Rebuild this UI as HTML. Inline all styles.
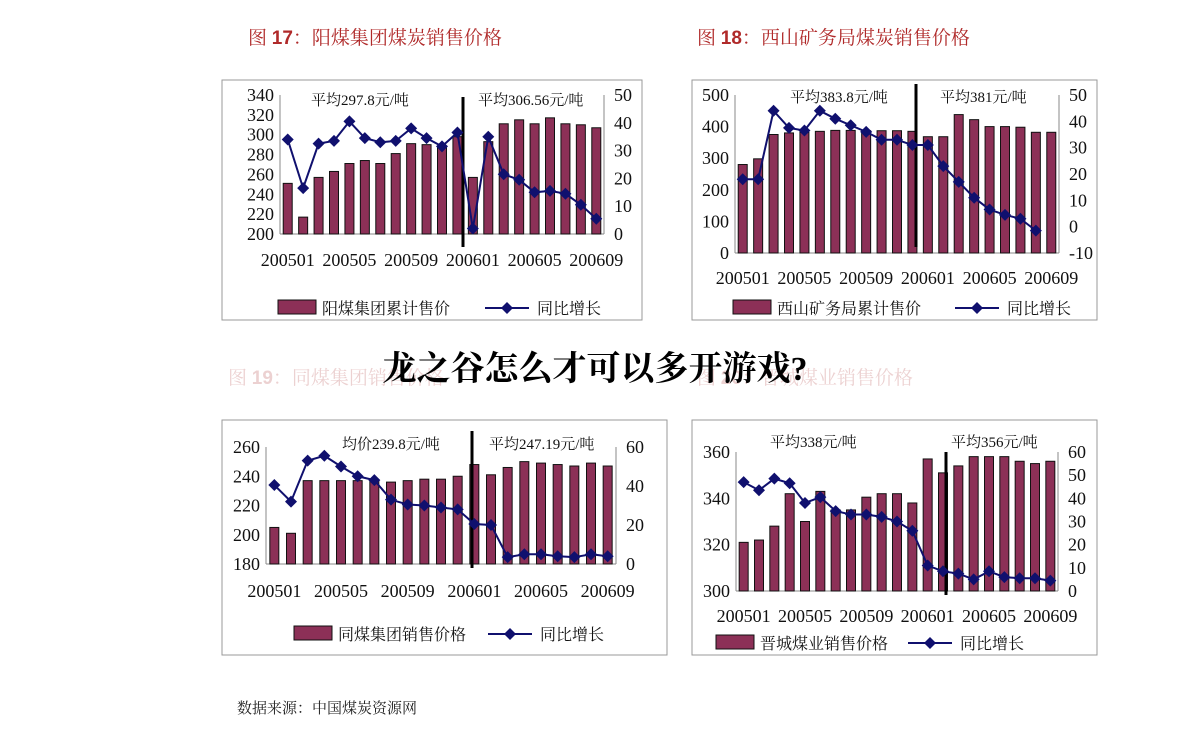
<!DOCTYPE html>
<html><head><meta charset="utf-8">
<style>
body{margin:0;background:#fff;width:1190px;height:736px;overflow:hidden;font-family:"Liberation Serif","Noto Serif CJK SC",serif;}
svg text{font-family:"Liberation Serif","Noto Serif CJK SC","Noto Serif CJK JP",serif;}
</style></head>
<body>
<svg id="s" width="1190" height="736" xmlns="http://www.w3.org/2000/svg">
<text x="248" y="44" font-size="19" fill="#b02a2a">图 <tspan font-weight="bold" font-family="Liberation Sans">17</tspan>：阳煤集团煤炭销售价格</text>
<text x="697" y="44" font-size="19" fill="#b02a2a">图 <tspan font-weight="bold" font-family="Liberation Sans">18</tspan>：西山矿务局煤炭销售价格</text>
<text x="228" y="384" font-size="19" fill="#d59a9a">图 <tspan font-weight="bold" font-family="Liberation Sans">19</tspan>：同煤集团销售价格</text>
<text x="697" y="384" font-size="19" fill="#d59a9a">图 <tspan font-weight="bold" font-family="Liberation Sans">20</tspan>：晋城煤业销售价格</text>
<text x="237" y="713" font-size="15" fill="#222">数据来源：中国煤炭资源网</text>
</svg>
<script>
const cats=["200501","200502","200503","200504","200505","200506","200507","200508","200509","200510","200511","200512","200601","200602","200603","200604","200605","200606","200607","200608","200609"];
const bars1=[251,217,257,263,271,274,271,281,291,290,288,298,257,293,311,315,311,317,311,310,307];
const line1=[34,16.5,32.5,33.5,40.5,34.5,33,33.5,38,34.5,31.5,36.5,2,35,21.5,19.5,15,15.5,14.5,10.5,5.5];
const leftTicks1=[200,220,240,260,280,300,320,340];
const rightTicks1=[0,10,20,30,40,50];
const bars2=[280,298,375,380,382,385,388,388,387,387,387,385,368,368,438,422,400,400,398,382,382];
const line2=[18,18,44,37.5,36.5,44,41,38.5,36,33,33,31,31,23,17,11,6.5,4.5,3,-1.5,null];
const leftTicks2=[0,100,200,300,400,500];
const rightTicks2=[-10,0,10,20,30,40,50];
const bars3=[205,201,237,237,237,237,237,236,237,238,238,240,248,241,246,250,249,248,247,249,247];
const line3=[40.5,32,53,55.5,50,45,43,33,30.5,30,29,28,20.5,20,3.5,5,5,4,3.5,5,4];
const leftTicks3=[180,200,220,240,260];
const rightTicks3=[0,20,40,60];
const bars4=[321,322,328,342,330,343,335,335,340.5,342,342,338,357,351,354,358,358,358,356,355,356];
const line4=[47,43.5,48.5,46.5,38,40.5,34.5,33,33,32,30,26,11,8.5,7.5,5,8.5,6,5.5,5.5,4.5];
const leftTicks4=[300,320,340,360];
const rightTicks4=[0,10,20,30,40,50,60];

const NS="http://www.w3.org/2000/svg";
const svg=document.getElementById('s');
function mk(tag,attrs,parent){const e=document.createElementNS(NS,tag);for(const k in attrs)e.setAttribute(k,attrs[k]);(parent||svg).appendChild(e);return e;}
function txt(x,y,s,size,anchor,parent){const t=mk('text',{x:x,y:y,'font-size':size,'text-anchor':anchor||'start',fill:'#111'},parent);t.textContent=s;return t;}

function chart(c){
  const g=mk('g',{});
  
  
  const panel=mk('rect',{x:c.px,y:c.py,width:c.pw,height:c.ph,fill:'#fff',stroke:'#999','stroke-width':1},g);
  
  
  const n=cats.length, step=(c.x1-c.x0)/n;
  const xc=i=>c.x0+step*(i+0.5);
  const yl=v=>c.yb-(v-c.lmin)/(c.lmax-c.lmin)*(c.yb-c.yt);
  const yr=v=>c.yb-(v-c.rmin)/(c.rmax-c.rmin)*(c.yb-c.yt);
  c.lt.forEach(v=>{const t=txt(c.x0-6,yl(v)+6,String(v),18,'end',g);});
  c.rt.forEach(v=>{const t=txt(c.x1+10,yr(v)+6,String(v),18,'start',g);});
  const ax=mk('line',{x1:c.x0,x2:c.x0,y1:c.yt,y2:c.yb,stroke:'#888'},g);
  
  const ax2=mk('line',{x1:c.x1,x2:c.x1,y1:c.yt,y2:c.yb,stroke:'#888'},g);
  
  const ax3=mk('line',{x1:c.x0,x2:c.x1,y1:c.yb,y2:c.yb,stroke:'#888'},g);
  
  c.bars.forEach((v,i)=>{
    const top=Math.max(yl(v),c.yt-4);
    const r=mk('rect',{x:xc(i)-c.bw/2,y:top,width:c.bw,height:c.yb-top,fill:'#8c3057',stroke:'#111','stroke-width':1},g);
    
    
  });
  cats.forEach((s,i)=>{if(i%4===0){const t=txt(xc(i),c.xly,s,18,'middle',g);}});
  const d=mk('line',{x1:c.dx,x2:c.dx,y1:c.dy0,y2:c.dy1,stroke:'#000','stroke-width':3},g);
  
  let pts=[];c.line.forEach((v,i)=>{if(v!==null)pts.push(xc(i)+','+yr(v));});
  const pl=mk('polyline',{points:pts.join(' '),fill:'none',stroke:'#10106e','stroke-width':2},g);
  
  c.line.forEach((v,i)=>{if(v===null)return;const x=xc(i),y=yr(v);
    const p=mk('polygon',{points:`${x},${y-6} ${x+6},${y} ${x},${y+6} ${x-6},${y}`,fill:'#10106e'},g);
    });
  c.ann.forEach(a=>{const t=txt(a[0],a[1],a[2],15,'start',g);});
  const lg=mk('g',{},g);
  const lr=mk('rect',{x:c.lgx,y:c.lgy-8,width:38,height:14,fill:'#8c3057',stroke:'#111'},lg);
  
  txt(c.lgx+44,c.lgy+6,c.lgb,16,'start',lg);
  const lx=c.lgx+c.lgw;
  mk('line',{x1:lx,x2:lx+44,y1:c.lgy,y2:c.lgy,stroke:'#10106e','stroke-width':2},lg);
  mk('polygon',{points:`${lx+22},${c.lgy-6} ${lx+28},${c.lgy} ${lx+22},${c.lgy+6} ${lx+16},${c.lgy}`,fill:'#10106e'},lg);
  txt(lx+52,c.lgy+6,'同比增长',16,'start',lg);
}
chart({name:'chart-yangmei',px:222,py:80,pw:420,ph:240,x0:280,x1:604,yt:95,yb:234,lmin:200,lmax:340,rmin:0,rmax:50,lt:leftTicks1,rt:rightTicks1,bars:bars1,line:line1,bw:9,xly:266,dx:463,dy0:97,dy1:247,ann:[[311,105,'平均297.8元/吨'],[478,105,'平均306.56元/吨']],lgx:278,lgy:308,lgw:207,lgb:'阳煤集团累计售价'});
chart({name:'chart-xishan',px:692,py:80,pw:405,ph:240,x0:735,x1:1059,yt:95,yb:253,lmin:0,lmax:500,rmin:-10,rmax:50,lt:leftTicks2,rt:rightTicks2,bars:bars2,line:line2,bw:9,xly:284,dx:916,dy0:84,dy1:247,ann:[[790,102,'平均383.8元/吨'],[940,102,'平均381元/吨']],lgx:733,lgy:308,lgw:222,lgb:'西山矿务局累计售价'});
chart({name:'chart-tongmei',px:222,py:420,pw:445,ph:235,x0:266,x1:616,yt:447,yb:564,lmin:180,lmax:260,rmin:0,rmax:60,lt:leftTicks3,rt:rightTicks3,bars:bars3,line:line3,bw:9,xly:597,dx:472,dy0:431,dy1:568,ann:[[342,449,'均价239.8元/吨'],[489,449,'平均247.19元/吨']],lgx:294,lgy:634,lgw:194,lgb:'同煤集团销售价格'});
chart({name:'chart-jincheng',px:692,py:420,pw:405,ph:235,x0:736,x1:1058,yt:452,yb:591,lmin:300,lmax:360,rmin:0,rmax:60,lt:leftTicks4,rt:rightTicks4,bars:bars4,line:line4,bw:9,xly:622,dx:946,dy0:452,dy1:595,ann:[[770,447,'平均338元/吨'],[951,447,'平均356元/吨']],lgx:716,lgy:643,lgw:192,lgb:'晋城煤业销售价格'});
const ov=mk('rect',{x:0,y:340,width:1190,height:60,fill:'#fff','fill-opacity':0.55});


const bt=mk('text',{x:595,y:380,'font-size':34,'font-weight':'bold','text-anchor':'middle',fill:'#000'});


bt.setAttribute('font-family','"Liberation Sans","Noto Sans CJK SC",sans-serif');
bt.textContent='龙之谷怎么才可以多开游戏?';
</script>
</body></html>
